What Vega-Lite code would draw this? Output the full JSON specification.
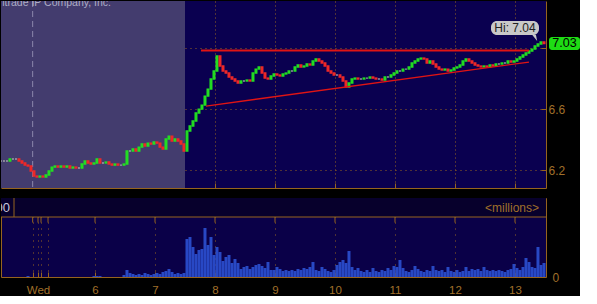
{
"$schema": "https://vega.github.io/schema/vega-lite/v6.json",
"background": "#000000",
"padding": 0,
"spacing": 8,
"config": {"view": {"stroke": null}, "font": "Liberation Sans", "axis": {"labelFont": "Liberation Sans", "zindex": 1}},
"datasets": {"bars": [
{"t":4.433,"o":6.261,"c":6.261,"v":0},{"t":4.483,"o":6.261,"c":6.261,"v":0},{"t":4.533,"o":6.261,"c":6.261,"v":0},{"t":4.583,"o":6.261,"c":6.274,"v":0},{"t":4.633,"o":6.274,"c":6.274,"v":0},{"t":4.683,"o":6.274,"c":6.274,"v":0},{"t":4.733,"o":6.274,"c":6.261,"v":0},{"t":4.783,"o":6.261,"c":6.248,"v":0},{"t":4.833,"o":6.248,"c":6.234,"v":0},{"t":4.883,"o":6.234,"c":6.228,"v":0.05},
{"t":4.933,"o":6.228,"c":6.195,"v":0},{"t":4.983,"o":6.195,"c":6.162,"v":0},{"t":5.033,"o":6.162,"c":6.156,"v":0},{"t":5.083,"o":6.156,"c":6.162,"v":0},{"t":5.133,"o":6.162,"c":6.156,"v":0},{"t":5.183,"o":6.156,"c":6.169,"v":0},{"t":5.233,"o":6.169,"c":6.195,"v":0},{"t":5.283,"o":6.195,"c":6.221,"v":0},{"t":5.333,"o":6.221,"c":6.228,"v":0},{"t":5.383,"o":6.228,"c":6.221,"v":0},
{"t":5.433,"o":6.221,"c":6.228,"v":0},{"t":5.483,"o":6.228,"c":6.221,"v":0},{"t":5.533,"o":6.221,"c":6.228,"v":0},{"t":5.583,"o":6.228,"c":6.215,"v":0},{"t":5.633,"o":6.215,"c":6.221,"v":0},{"t":5.683,"o":6.221,"c":6.215,"v":0},{"t":5.733,"o":6.215,"c":6.215,"v":0},{"t":5.783,"o":6.215,"c":6.241,"v":0},{"t":5.833,"o":6.241,"c":6.261,"v":0},{"t":5.883,"o":6.261,"c":6.248,"v":0},
{"t":5.933,"o":6.248,"c":6.241,"v":0},{"t":5.983,"o":6.241,"c":6.248,"v":0.05},{"t":6.033,"o":6.248,"c":6.274,"v":0.05},{"t":6.083,"o":6.274,"c":6.248,"v":0.05},{"t":6.133,"o":6.248,"c":6.248,"v":0},{"t":6.183,"o":6.248,"c":6.254,"v":0},{"t":6.233,"o":6.254,"c":6.241,"v":0},{"t":6.283,"o":6.241,"c":6.234,"v":0},{"t":6.333,"o":6.234,"c":6.241,"v":0},{"t":6.383,"o":6.241,"c":6.234,"v":0},
{"t":6.433,"o":6.234,"c":6.234,"v":0},{"t":6.483,"o":6.234,"c":6.241,"v":0.1},{"t":6.533,"o":6.241,"c":6.326,"v":0.35},{"t":6.583,"o":6.326,"c":6.326,"v":0.2},{"t":6.633,"o":6.326,"c":6.339,"v":0.15},{"t":6.683,"o":6.339,"c":6.326,"v":0.1},{"t":6.733,"o":6.326,"c":6.352,"v":0.15},{"t":6.783,"o":6.352,"c":6.372,"v":0.1},{"t":6.833,"o":6.372,"c":6.359,"v":0.2},{"t":6.883,"o":6.359,"c":6.378,"v":0.15},
{"t":6.933,"o":6.378,"c":6.372,"v":0.1},{"t":6.983,"o":6.372,"c":6.385,"v":0.15},{"t":7.033,"o":6.385,"c":6.378,"v":0.2},{"t":7.083,"o":6.378,"c":6.352,"v":0.15},{"t":7.133,"o":6.352,"c":6.339,"v":0.25},{"t":7.183,"o":6.339,"c":6.405,"v":0.3},{"t":7.233,"o":6.405,"c":6.424,"v":0.4},{"t":7.283,"o":6.424,"c":6.392,"v":0.25},{"t":7.333,"o":6.392,"c":6.405,"v":0.15},{"t":7.383,"o":6.405,"c":6.392,"v":0.2},
{"t":7.433,"o":6.392,"c":6.372,"v":0.15},{"t":7.483,"o":6.372,"c":6.326,"v":0.2},{"t":7.533,"o":6.326,"c":6.457,"v":1.9},{"t":7.583,"o":6.457,"c":6.490,"v":2.0},{"t":7.633,"o":6.490,"c":6.523,"v":1.5},{"t":7.683,"o":6.523,"c":6.575,"v":1.15},{"t":7.733,"o":6.575,"c":6.601,"v":1.35},{"t":7.783,"o":6.601,"c":6.627,"v":1.4},{"t":7.833,"o":6.627,"c":6.686,"v":2.45},{"t":7.883,"o":6.686,"c":6.732,"v":1.6},
{"t":7.933,"o":6.732,"c":6.798,"v":2.0},{"t":7.983,"o":6.798,"c":6.850,"v":1.1},{"t":8.033,"o":6.850,"c":6.949,"v":1.5},{"t":8.083,"o":6.949,"c":6.883,"v":1.25},{"t":8.133,"o":6.883,"c":6.850,"v":0.8},{"t":8.183,"o":6.850,"c":6.837,"v":1.0},{"t":8.233,"o":6.837,"c":6.811,"v":1.1},{"t":8.283,"o":6.811,"c":6.798,"v":0.7},{"t":8.333,"o":6.798,"c":6.785,"v":0.9},{"t":8.383,"o":6.785,"c":6.772,"v":0.7},
{"t":8.433,"o":6.772,"c":6.785,"v":0.4},{"t":8.483,"o":6.785,"c":6.785,"v":0.5},{"t":8.533,"o":6.785,"c":6.791,"v":0.55},{"t":8.583,"o":6.791,"c":6.785,"v":0.4},{"t":8.633,"o":6.785,"c":6.837,"v":0.5},{"t":8.683,"o":6.837,"c":6.863,"v":0.6},{"t":8.733,"o":6.863,"c":6.877,"v":0.65},{"t":8.783,"o":6.877,"c":6.837,"v":0.55},{"t":8.833,"o":6.837,"c":6.804,"v":0.45},{"t":8.883,"o":6.804,"c":6.798,"v":0.75},
{"t":8.933,"o":6.798,"c":6.818,"v":0.35},{"t":8.983,"o":6.818,"c":6.831,"v":0.35},{"t":9.033,"o":6.831,"c":6.824,"v":0.5},{"t":9.083,"o":6.824,"c":6.818,"v":0.4},{"t":9.133,"o":6.818,"c":6.831,"v":0.3},{"t":9.183,"o":6.831,"c":6.837,"v":0.35},{"t":9.233,"o":6.837,"c":6.850,"v":0.3},{"t":9.283,"o":6.850,"c":6.850,"v":0.35},{"t":9.333,"o":6.850,"c":6.877,"v":0.3},{"t":9.383,"o":6.877,"c":6.890,"v":0.4},
{"t":9.433,"o":6.890,"c":6.877,"v":0.35},{"t":9.483,"o":6.877,"c":6.883,"v":0.45},{"t":9.533,"o":6.883,"c":6.896,"v":0.4},{"t":9.583,"o":6.896,"c":6.890,"v":0.5},{"t":9.633,"o":6.890,"c":6.916,"v":0.75},{"t":9.683,"o":6.916,"c":6.929,"v":0.35},{"t":9.733,"o":6.929,"c":6.916,"v":0.3},{"t":9.783,"o":6.916,"c":6.903,"v":0.5},{"t":9.833,"o":6.903,"c":6.883,"v":0.4},{"t":9.883,"o":6.883,"c":6.850,"v":0.3},
{"t":9.933,"o":6.850,"c":6.837,"v":0.25},{"t":9.983,"o":6.837,"c":6.824,"v":0.35},{"t":10.033,"o":6.824,"c":6.824,"v":0.6},{"t":10.083,"o":6.824,"c":6.811,"v":0.75},{"t":10.133,"o":6.811,"c":6.785,"v":0.85},{"t":10.183,"o":6.785,"c":6.745,"v":0.7},{"t":10.233,"o":6.745,"c":6.772,"v":1.3},{"t":10.283,"o":6.772,"c":6.798,"v":0.5},{"t":10.333,"o":6.798,"c":6.804,"v":0.35},{"t":10.383,"o":6.804,"c":6.798,"v":0.45},
{"t":10.433,"o":6.798,"c":6.798,"v":0.3},{"t":10.483,"o":6.798,"c":6.804,"v":0.25},{"t":10.533,"o":6.804,"c":6.804,"v":0.35},{"t":10.583,"o":6.804,"c":6.811,"v":0.25},{"t":10.633,"o":6.811,"c":6.804,"v":0.45},{"t":10.683,"o":6.804,"c":6.798,"v":0.3},{"t":10.733,"o":6.798,"c":6.798,"v":0.25},{"t":10.783,"o":6.798,"c":6.791,"v":0.35},{"t":10.833,"o":6.791,"c":6.811,"v":0.3},{"t":10.883,"o":6.811,"c":6.811,"v":0.45},
{"t":10.933,"o":6.811,"c":6.824,"v":0.35},{"t":10.983,"o":6.824,"c":6.837,"v":0.55},{"t":11.033,"o":6.837,"c":6.850,"v":0.5},{"t":11.083,"o":6.850,"c":6.850,"v":0.85},{"t":11.133,"o":6.850,"c":6.863,"v":0.45},{"t":11.183,"o":6.863,"c":6.863,"v":0.3},{"t":11.233,"o":6.863,"c":6.877,"v":0.25},{"t":11.283,"o":6.877,"c":6.903,"v":0.35},{"t":11.333,"o":6.903,"c":6.916,"v":0.55},{"t":11.383,"o":6.916,"c":6.929,"v":0.4},
{"t":11.433,"o":6.929,"c":6.935,"v":0.3},{"t":11.483,"o":6.935,"c":6.929,"v":0.25},{"t":11.533,"o":6.929,"c":6.903,"v":0.35},{"t":11.583,"o":6.903,"c":6.916,"v":0.3},{"t":11.633,"o":6.916,"c":6.896,"v":0.55},{"t":11.683,"o":6.896,"c":6.877,"v":0.35},{"t":11.733,"o":6.877,"c":6.863,"v":0.3},{"t":11.783,"o":6.863,"c":6.857,"v":0.35},{"t":11.833,"o":6.857,"c":6.863,"v":0.25},{"t":11.883,"o":6.863,"c":6.850,"v":0.5},
{"t":11.933,"o":6.850,"c":6.857,"v":0.3},{"t":11.983,"o":6.857,"c":6.870,"v":0.25},{"t":12.033,"o":6.870,"c":6.877,"v":0.35},{"t":12.083,"o":6.877,"c":6.890,"v":0.25},{"t":12.133,"o":6.890,"c":6.916,"v":0.3},{"t":12.183,"o":6.916,"c":6.929,"v":0.5},{"t":12.233,"o":6.929,"c":6.916,"v":0.3},{"t":12.283,"o":6.916,"c":6.903,"v":0.4},{"t":12.333,"o":6.903,"c":6.890,"v":0.35},{"t":12.383,"o":6.890,"c":6.883,"v":0.4},
{"t":12.433,"o":6.883,"c":6.877,"v":0.3},{"t":12.483,"o":6.877,"c":6.883,"v":0.5},{"t":12.533,"o":6.883,"c":6.877,"v":0.35},{"t":12.583,"o":6.877,"c":6.890,"v":0.3},{"t":12.633,"o":6.890,"c":6.883,"v":0.35},{"t":12.683,"o":6.883,"c":6.896,"v":0.3},{"t":12.733,"o":6.896,"c":6.896,"v":0.35},{"t":12.783,"o":6.896,"c":6.903,"v":0.3},{"t":12.833,"o":6.903,"c":6.903,"v":0.25},{"t":12.883,"o":6.903,"c":6.916,"v":0.35},
{"t":12.933,"o":6.916,"c":6.909,"v":0.4},{"t":12.983,"o":6.909,"c":6.916,"v":0.65},{"t":13.033,"o":6.916,"c":6.929,"v":0.45},{"t":13.083,"o":6.929,"c":6.942,"v":0.35},{"t":13.133,"o":6.942,"c":6.955,"v":0.5},{"t":13.183,"o":6.955,"c":6.968,"v":0.95},{"t":13.233,"o":6.968,"c":6.981,"v":0.75},{"t":13.283,"o":6.981,"c":6.994,"v":0.5},{"t":13.333,"o":6.994,"c":7.014,"v":0.45},{"t":13.383,"o":7.014,"c":7.027,"v":1.5},
{"t":13.433,"o":7.027,"c":7.040,"v":0.6},{"t":13.483,"o":7.040,"c":7.030,"v":0.7}
]},
"vconcat": [
{
 "width": 545, "height": 187,
 "view": {"fill": "#0a0050", "stroke": null},
 "layer": [
  {"data": {"values": [{"s": 4.4333, "e": 7.5}]},
   "mark": {"type": "rect", "color": "#433c6e"},
   "encoding": {
    "x": {"field": "s", "type": "quantitative", "scale": {"domain": [4.4333, 13.5167], "nice": false, "zero": false, "padding": 0},
          "axis": {"orient": "bottom", "values": [5.05, 5.1, 5.217, 6, 7, 8, 9, 10, 11, 12, 13], "labels": false, "tickSize": -5, "tickColor": "#96641e", "domainColor": "#96641e", "grid": true, "gridColor": "#96641e", "gridDash": [1, 3], "title": null}},
    "x2": {"field": "e"}}},
  {"data": {"values": [{"t": 4.961}]},
   "mark": {"type": "rule", "color": "#8c88ac", "strokeDash": [6, 4], "strokeWidth": 1},
   "encoding": {"x": {"field": "t", "type": "quantitative"}}},
  {"data": {"name": "bars"},
   "mark": {"type": "bar", "size": 1.6, "strokeWidth": 1.4, "clip": true},
   "encoding": {
    "x": {"field": "t", "type": "quantitative"},
    "y": {"field": "o", "type": "quantitative", "scale": {"domain": [6.084, 7.309], "nice": false, "zero": false, "padding": 0},
          "axis": {"orient": "right", "values": [6.2, 6.4, 6.6, 6.8, 7.0, 7.2], "labelExpr": "abs(datum.value-7)<0.01 ? '' : format(datum.value,'.1f')", "tickSize": -5, "tickColor": "#96641e", "domainColor": "#96641e", "grid": true, "gridColor": "#96641e", "gridDash": [1, 4], "labelColor": "#a0702a", "labelFontSize": 12, "labelPadding": 7, "title": null}},
    "y2": {"field": "c"},
    "fill": {"condition": [{"test": "datum.c > datum.o + 0.003", "value": "#22e022"}, {"test": "datum.c < datum.o - 0.003", "value": "#f02828"}], "value": "#b4b4b4"},
    "stroke": {"condition": [{"test": "datum.c > datum.o + 0.003", "value": "#22e022"}, {"test": "datum.c < datum.o - 0.003", "value": "#f02828"}], "value": "#b4b4b4"}}},
  {"data": {"values": [{"xa": 7.767, "ya": 6.985, "xb": 13.233, "yb": 6.985, "w": 2}, {"xa": 7.85, "ya": 6.621, "xb": 13.233, "yb": 6.909, "w": 1.3}]},
   "mark": {"type": "rule", "color": "#e01414"},
   "encoding": {"x": {"field": "xa", "type": "quantitative"}, "x2": {"field": "xb"}, "y": {"field": "ya", "type": "quantitative"}, "y2": {"field": "yb"}, "strokeWidth": {"field": "w", "type": "quantitative", "scale": null}}},
  {"data": {"values": [{"a": 12.6, "b": 13.4, "p": 7.178, "q": 7.086}]},
   "mark": {"type": "rect", "color": "#c8c8c8", "cornerRadius": 6},
   "encoding": {"x": {"field": "a", "type": "quantitative"}, "x2": {"field": "b"}, "y": {"field": "p", "type": "quantitative"}, "y2": {"field": "q"}}},
  {"data": {"values": [{"a": 13.317, "p": 7.067}]},
   "mark": {"type": "point", "shape": "M-0.6,-1L0.6,-1L1,1Z", "size": 40, "filled": true, "color": "#c8c8c8", "opacity": 1},
   "encoding": {"x": {"field": "a", "type": "quantitative"}, "y": {"field": "p", "type": "quantitative"}}},
  {"data": {"values": [{"a": 13.0, "p": 7.130, "s": "Hi: 7.04"}]},
   "mark": {"type": "text", "color": "#222222", "fontSize": 12, "align": "center", "baseline": "middle"},
   "encoding": {"x": {"field": "a", "type": "quantitative"}, "y": {"field": "p", "type": "quantitative"}, "text": {"field": "s"}}},
  {"data": {"values": [{"a": 13.567, "b": 14.083, "p": 7.073, "q": 6.988}]},
   "mark": {"type": "rect", "color": "#1edc14", "cornerRadius": 3},
   "encoding": {"x": {"field": "a", "type": "quantitative"}, "x2": {"field": "b"}, "y": {"field": "p", "type": "quantitative"}, "y2": {"field": "q"}}},
  {"data": {"values": [{"a": 13.825, "p": 7.031, "s": "7.03"}]},
   "mark": {"type": "text", "color": "#000000", "fontSize": 12.5, "align": "center", "baseline": "middle"},
   "encoding": {"x": {"field": "a", "type": "quantitative"}, "y": {"field": "p", "type": "quantitative"}, "text": {"field": "s"}}},
  {"data": {"values": [{"a": 6.267, "p": 7.278, "s": "TD Ameritrade IP Company, Inc."}]},
   "mark": {"type": "text", "color": "#aeaec6", "fontSize": 10.5, "align": "right", "baseline": "alphabetic", "clip": true},
   "encoding": {"x": {"field": "a", "type": "quantitative"}, "y": {"field": "p", "type": "quantitative"}, "text": {"field": "s"}}}
 ]
},
{
 "width": 545, "height": 79,
 "view": {"fill": "#0a0048", "stroke": "#96641e"},
 "layer": [
  {"data": {"values": [{"a": 3.0, "b": 3.95}]},
   "mark": {"type": "rect", "color": "#07002c"},
   "encoding": {
    "y": {"field": "a", "type": "quantitative", "scale": {"domain": [0, 3.95], "nice": false, "zero": false, "padding": 0},
          "axis": {"orient": "right", "values": [0], "ticks": false, "domain": false, "grid": false, "labelColor": "#a0702a", "labelFontSize": 12, "labelPadding": 6, "title": null, "zindex": 0}},
    "y2": {"field": "b"}}},
  {"data": {"name": "bars"},
   "mark": {"type": "bar", "size": 3, "color": "#2848c4", "clip": true},
   "encoding": {
    "x": {"field": "t", "type": "quantitative", "scale": {"domain": [4.4333, 13.5167], "nice": false, "zero": false, "padding": 0},
          "axis": {"orient": "bottom", "zindex": 0, "values": [4.961, 5.05, 5.1, 5.217, 6, 7, 8, 9, 10, 11, 12, 13], "labelExpr": "abs(datum.value-5.05)<0.01 ? 'Wed' : (datum.value > 5.9 ? format(datum.value,'d') : '')", "labelOverlap": false, "labelFlush": false, "labelDx": 3, "labelColor": "#a0702a", "labelFontSize": 11.5, "labelPadding": 12, "tickSize": -5, "tickColor": "#96641e", "domain": false, "grid": true, "gridColor": "#96641e", "gridDash": [1, 5], "title": null}},
    "y": {"field": "v", "type": "quantitative"}}},
  {"data": {"values": [{"t": 4.961}, {"t": 5.05}, {"t": 5.1}, {"t": 5.217}, {"t": 6}, {"t": 7}, {"t": 8}, {"t": 9}, {"t": 10}, {"t": 11}, {"t": 12}, {"t": 13}]},
   "mark": {"type": "rule", "color": "#96641e"},
   "encoding": {"x": {"field": "t", "type": "quantitative"}, "y": {"datum": 2.72}, "y2": {"datum": 3.0}}},
  {"data": {"values": [{"p": 3.0}]},
   "mark": {"type": "rule", "color": "#96641e"},
   "encoding": {"y": {"field": "p", "type": "quantitative"}}},
  {"data": {"values": [{"t": 4.65, "a": 3.0, "b": 3.95}]},
   "mark": {"type": "rule", "color": "#96641e"},
   "encoding": {"x": {"field": "t", "type": "quantitative"}, "y": {"field": "a", "type": "quantitative"}, "y2": {"field": "b"}}},
  {"data": {"values": [{"t": 13.4, "p": 3.475, "s": "<millions>"}]},
   "mark": {"type": "text", "align": "right", "baseline": "middle", "color": "#a0702a", "fontSize": 12},
   "encoding": {"x": {"field": "t", "type": "quantitative"}, "y": {"field": "p", "type": "quantitative"}, "text": {"field": "s"}}},
  {"data": {"values": [{"t": 4.583, "p": 3.475, "s": "100"}]},
   "mark": {"type": "text", "align": "right", "baseline": "middle", "color": "#c8c8dc", "fontSize": 13, "clip": true},
   "encoding": {"x": {"field": "t", "type": "quantitative"}, "y": {"field": "p", "type": "quantitative"}, "text": {"field": "s"}}}
 ]
}
]
}
